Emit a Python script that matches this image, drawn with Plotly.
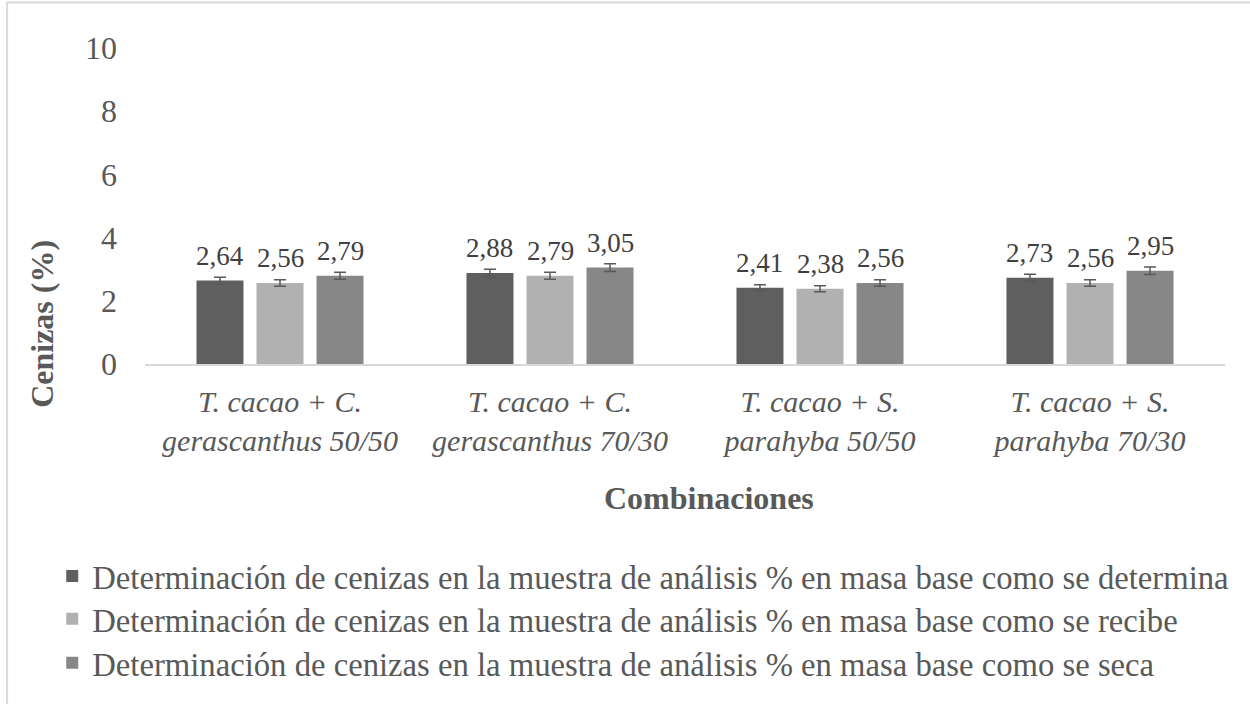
import plotly.graph_objects as go

categories = [
    "<i>T. cacao + C.<br>gerascanthus 50/50</i>",
    "<i>T. cacao + C.<br>gerascanthus 70/30</i>",
    "<i>T. cacao + S.<br>parahyba 50/50</i>",
    "<i>T. cacao + S.<br>parahyba 70/30</i>",
]
series_names = [
    "Determinación de cenizas en la muestra de análisis % en masa base como se determina",
    "Determinación de cenizas en la muestra de análisis % en masa base como se recibe",
    "Determinación de cenizas en la muestra de análisis % en masa base como se seca",
]
determina = [2.64, 2.88, 2.41, 2.73]
recibe = [2.56, 2.79, 2.38, 2.56]
seca = [2.79, 3.05, 2.56, 2.95]
colors = ["#5f5f5f", "#b1b1b1", "#878787"]

FONT = "Liberation Serif"
legend_ids = ["legend", "legend2", "legend3"]
legend_y = [-0.6714, -0.8073, -0.9463]

fig = go.Figure()
for k, (name, vals, col) in enumerate(zip(series_names, [determina, recibe, seca], colors)):
    fig.add_trace(go.Bar(
        x=categories, y=vals, name=name, legend=legend_ids[k],
        marker=dict(color=col, line=dict(width=0)),
        error_y=dict(type="percent", value=4, color="#595959", thickness=1.5, width=6),
    ))
    # value labels above each bar
    for cat, v in zip(categories, vals):
        fig.add_annotation(
            x=cat, y=v, text=f"{v:.2f}".replace(".", ","),
            xshift=(k - 1) * 60.1, yshift=8, yanchor="bottom", showarrow=False,
            font=dict(family=FONT, size=27, color="#404040"),
        )

legend_style = dict(
    orientation="v", xanchor="left", yanchor="middle", x=-0.0859,
    font=dict(family=FONT, size=32.7, color="#595959"), bgcolor="rgba(0,0,0,0)",
)
fig.update_layout(
    width=1250, height=704,
    margin=dict(l=144.5, r=24.5, t=48, b=339.5),
    paper_bgcolor="white", plot_bgcolor="white",
    barmode="group", bargap=0.333, bargroupgap=0.217,
    font=dict(family=FONT, color="#595959"),
    showlegend=True,
    legend=dict(legend_style, y=legend_y[0]),
    legend2=dict(legend_style, y=legend_y[1]),
    legend3=dict(legend_style, y=legend_y[2]),
)
fig.update_xaxes(
    showline=True, linecolor="#d9d9d9", linewidth=2,
    showgrid=False, ticks="", tickfont=dict(family=FONT, size=30, color="#595959"),
    ticklabelstandoff=10,
)
fig.update_yaxes(
    range=[0, 10], dtick=2, showgrid=False, zeroline=False, showline=False,
    tickfont=dict(family=FONT, size=32, color="#595959"),
    ticklabelstandoff=27,
)

fig.add_annotation(
    text="<b>Cenizas (%)</b>", textangle=-90, xref="paper", yref="paper",
    x=-0.096, y=0.128, xanchor="center", yanchor="middle", showarrow=False,
    font=dict(family=FONT, size=32, color="#595959"),
)
fig.add_annotation(
    text="<b>Combinaciones</b>", xref="paper", yref="paper",
    x=0.4232, y=-0.425, xanchor="left", yanchor="middle", showarrow=False,
    font=dict(family=FONT, size=32, color="#595959"),
)
fig.add_shape(
    type="rect", xref="paper", yref="paper",
    x0=-0.1277, x1=1.1, y0=-1.3, y1=1.1438,
    line=dict(color="#d9d9d9", width=2), layer="below",
)

fig.write_html("out.html", config={"displayModeBar": False},
               post_script="document.body.style.margin='0px';")
